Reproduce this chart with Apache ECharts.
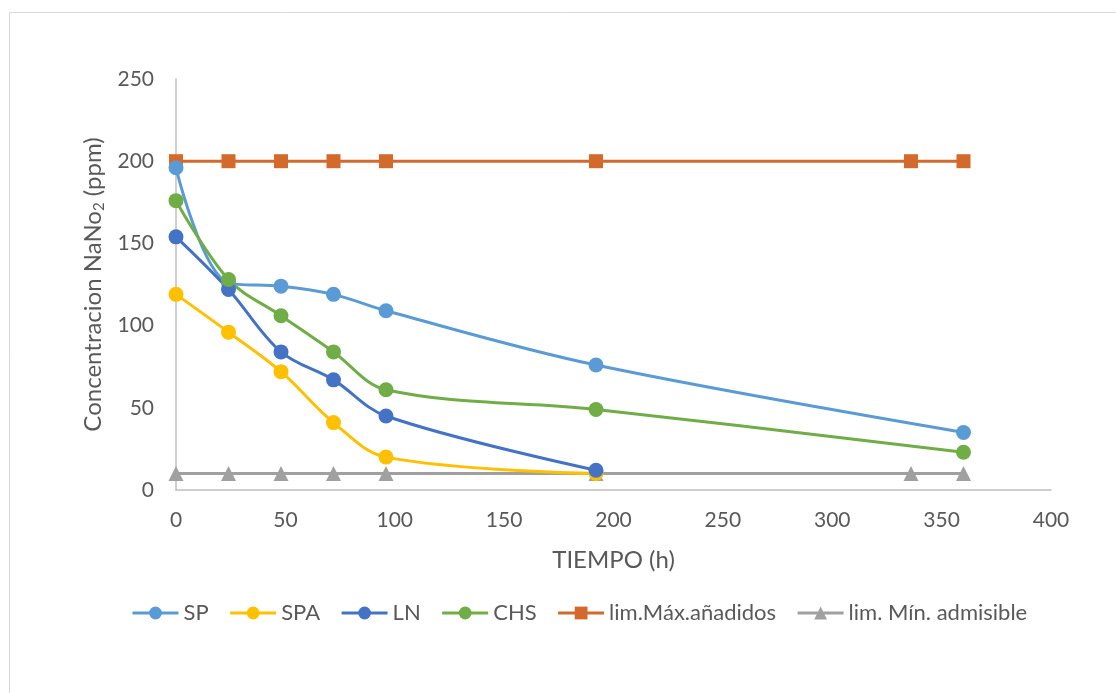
<!DOCTYPE html>
<html><head><meta charset="utf-8">
<script src="https://cdn.jsdelivr.net/npm/echarts@6/dist/echarts.min.js"></script>
<style>html,body{margin:0;padding:0;background:#fff}#c{width:1116px;height:693px}</style>
</head><body><div id="c"></div>
<script>
const xSP  = [0, 24, 48, 72, 96, 192, 360];
const ySP  = [196, 126, 124, 119, 109, 76, 35];
const xSPA = [0, 24, 48, 72, 96, 192];
const ySPA = [119, 96, 72, 41, 20, 10];
const xLN  = [0, 24, 48, 72, 96, 192];
const yLN  = [154, 122, 84, 67, 45, 12];
const xCHS = [0, 24, 48, 72, 96, 192, 360];
const yCHS = [176, 128, 106, 84, 61, 49, 23];
const xLim = [0, 24, 48, 72, 96, 192, 336, 360];
const yMax = [200, 200, 200, 200, 200, 200, 200, 200];
const yMin = [10, 10, 10, 10, 10, 10, 10, 10];
const names = ['SP', 'SPA', 'LN', 'CHS', 'lim.Máx.añadidos', 'lim. Mín. admisible'];

const pairs = (xs, ys) => xs.map((x, i) => [x, ys[i]]);
const font = 'Lato, "Open Sans", sans-serif';

function mk(name, data, color, symbol, smooth) {
  return {
    name, type: 'line', data, smooth: smooth ? 0.35 : false,
    symbol, symbolSize: symbol === 'triangle' ? 15 : (symbol === 'rect' ? 14 : 15),
    lineStyle: { color, width: 3 },
    itemStyle: { color },
    emphasis: { disabled: true }
  };
}

const chart = echarts.init(document.getElementById('c'));
chart.setOption({
  animation: false,
  backgroundColor: '#fff',
  graphic: [{ type: 'rect', shape: { x: 9.5, y: 12.5, width: 1120, height: 700 },
    style: { fill: 'none', stroke: '#D9D9D9', lineWidth: 1 }, silent: true }],
  grid: { left: 176, right: 65, top: 79, bottom: 203 },
  xAxis: {
    type: 'value', min: 0, max: 400, interval: 50,
    name: 'TIEMPO (h)', nameLocation: 'middle', nameGap: 58,
    nameTextStyle: { color: '#595959', fontSize: 24, fontFamily: font },
    axisLine: { show: true, lineStyle: { color: '#BFBFBF', width: 1.5 } },
    axisTick: { show: false },
    splitLine: { show: false },
    axisLabel: { color: '#595959', fontSize: 21, fontFamily: font, margin: 20 }
  },
  yAxis: {
    type: 'value', min: 0, max: 250, interval: 50,
    name: 'Concentracion NaNo{sub|2} (ppm)', nameLocation: 'middle', nameGap: 69,
    nameTextStyle: { color: '#595959', fontSize: 24, fontFamily: font,
      rich: { sub: { fontSize: 15, verticalAlign: 'bottom', color: '#595959', fontFamily: font, padding: [12, 0, 0, 0] } } },
    axisLine: { show: true, lineStyle: { color: '#BFBFBF', width: 1.5 } },
    axisTick: { show: false },
    splitLine: { show: false },
    axisLabel: { color: '#595959', fontSize: 21, fontFamily: font, margin: 22 }
  },
  legend: {
    top: 597, left: 126, itemGap: 20, itemWidth: 46, itemHeight: 16,
    lineStyle: { width: 3 },
    textStyle: { color: '#595959', fontSize: 22, fontFamily: font },
    data: names
  },
  series: [
    mk(names[4], pairs(xLim, yMax), '#D4692C', 'rect', false),
    mk(names[5], pairs(xLim, yMin), '#A0A0A0', 'triangle', false),
    mk(names[0], pairs(xSP, ySP), '#5B9BD5', 'circle', true),
    mk(names[1], pairs(xSPA, ySPA), '#FFC000', 'circle', true),
    mk(names[2], pairs(xLN, yLN), '#4472C4', 'circle', true),
    mk(names[3], pairs(xCHS, yCHS), '#70AD47', 'circle', true)
  ]
});
</script></body></html>
